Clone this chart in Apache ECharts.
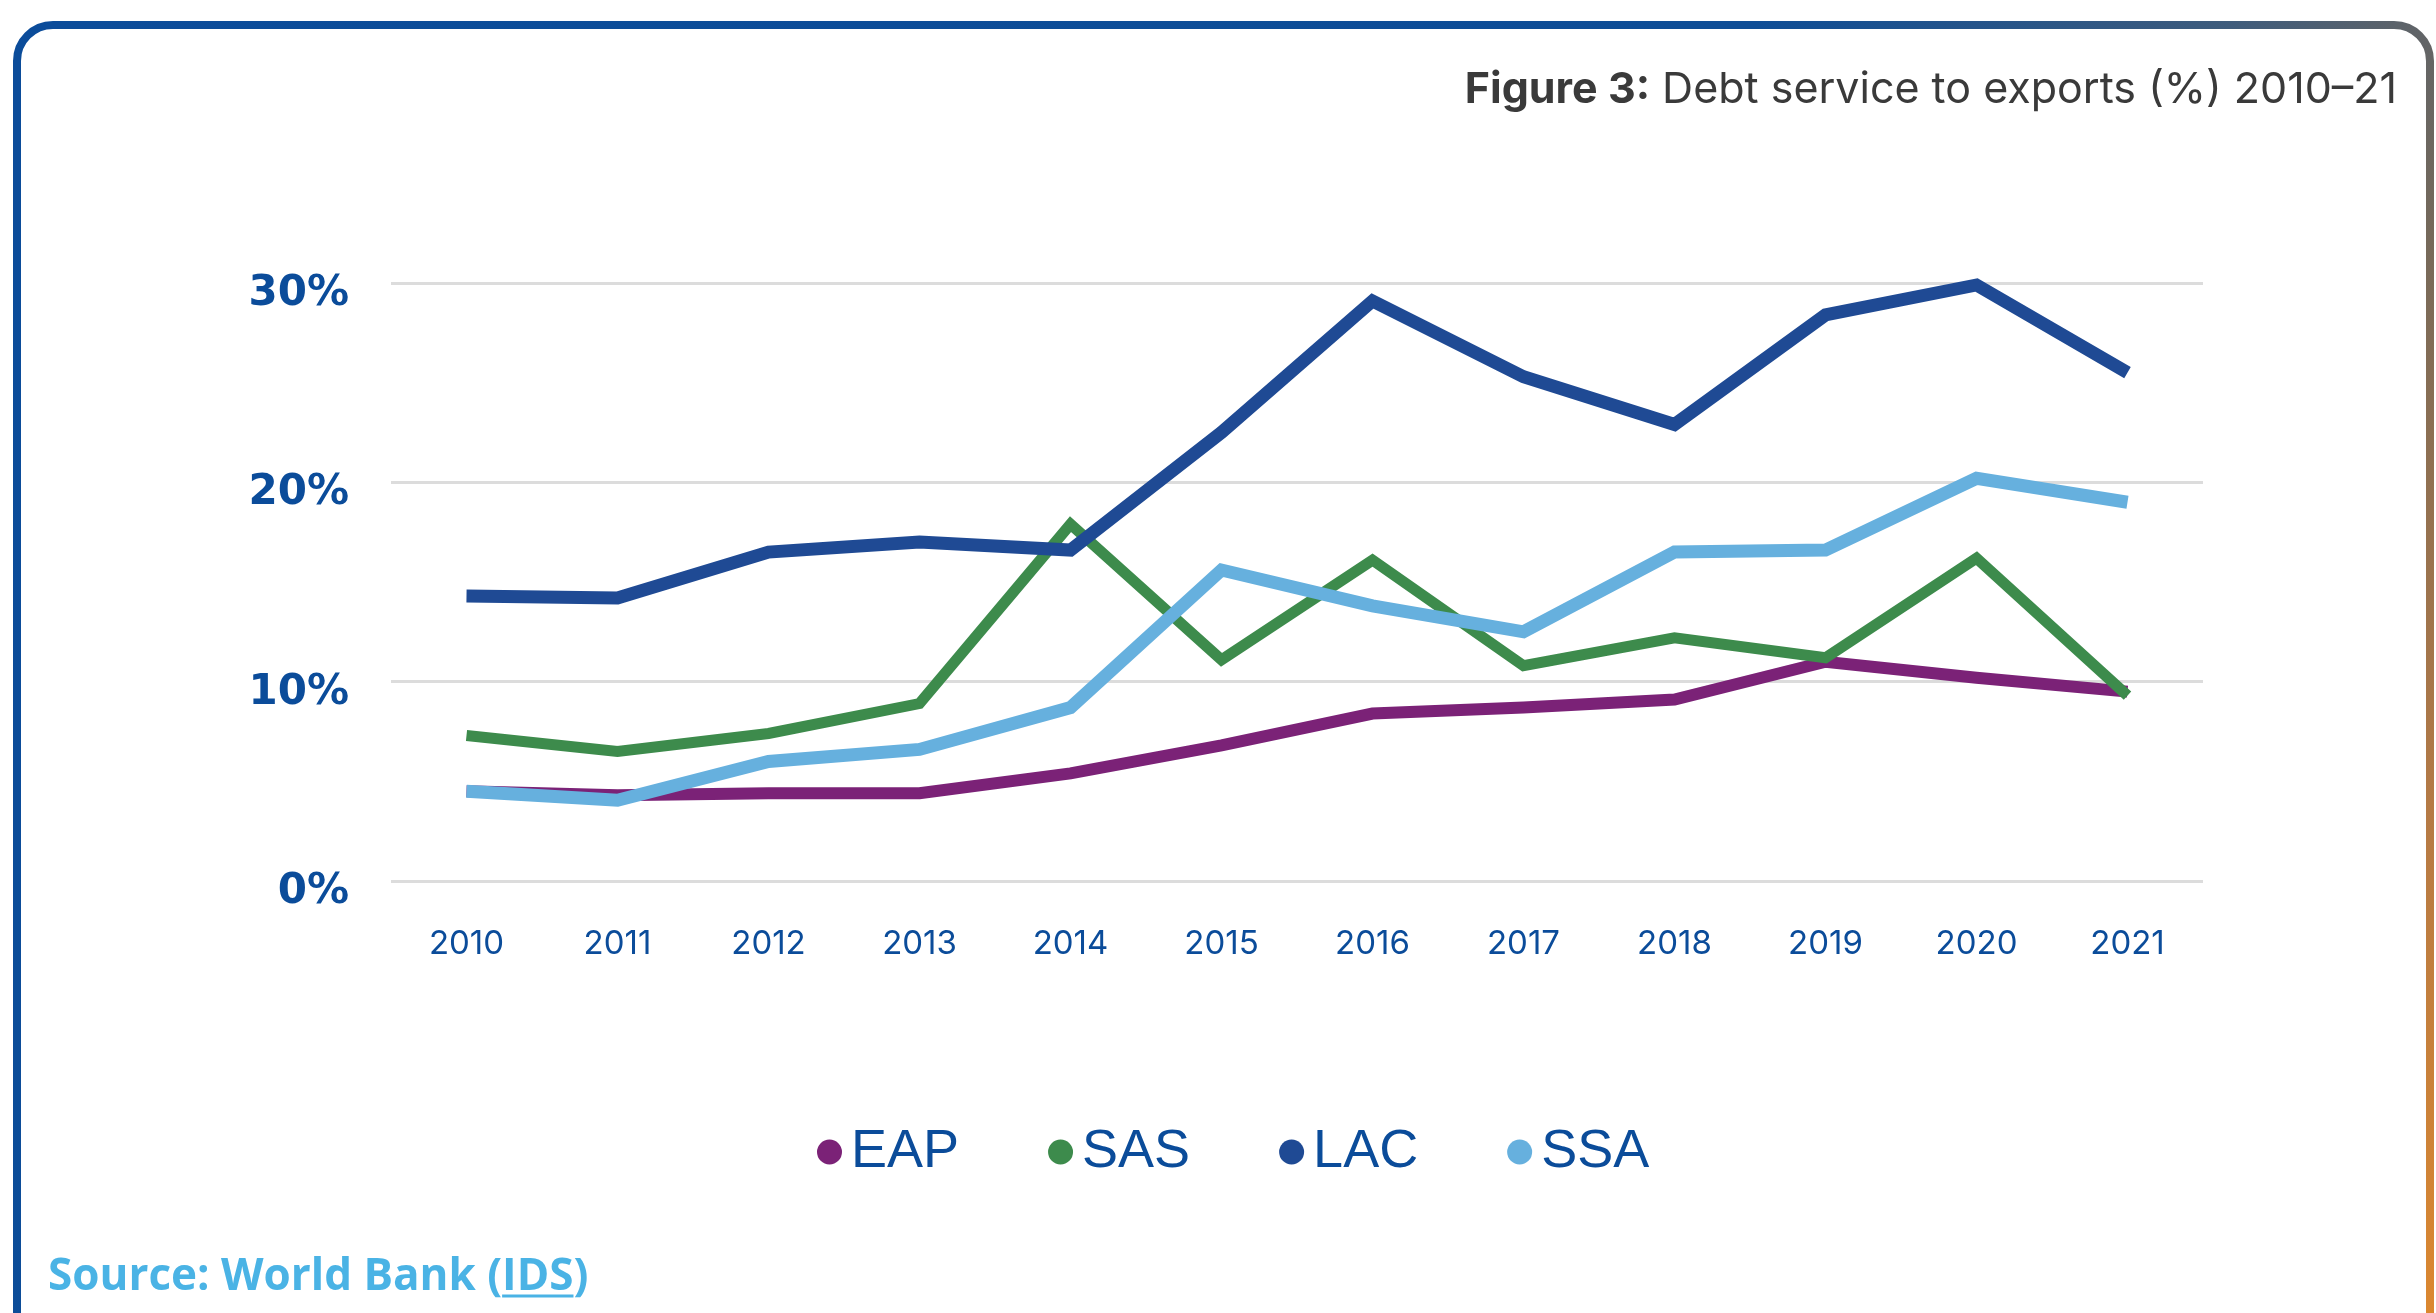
<!DOCTYPE html>
<html>
<head>
<meta charset="utf-8">
<script src="https://cdn.jsdelivr.net/npm/echarts@6/dist/echarts.min.js"></script>
<style>
  html, body { margin: 0; padding: 0; background: #ffffff; }
  #chart { width: 2436px; height: 1313px; }
</style>
</head>
<body>
<div id="chart"></div>
<script>
// ---- Data ----
const years = ['2010','2011','2012','2013','2014','2015','2016','2017','2018','2019','2020','2021'];
const seriesNames = ['EAP', 'SAS', 'LAC', 'SSA'];
const EAP = [4.5, 4.3, 4.4, 4.4, 5.4, 6.8, 8.4, 8.7, 9.1, 11.0, 10.2, 9.5];
const SAS = [7.3, 6.5, 7.4, 8.9, 17.9, 11.1, 16.1, 10.8, 12.2, 11.2, 16.2, 9.3];
const LAC = [14.3, 14.2, 16.5, 17.0, 16.6, 22.5, 29.1, 25.3, 22.9, 28.4, 29.9, 25.5];
const SSA = [4.5, 4.05, 6.0, 6.6, 8.7, 15.6, 13.8, 12.5, 16.5, 16.6, 20.2, 19.0];
const yTicks = [0, 10, 20, 30];
const titleBold = 'Figure 3:';
const titleRest = 'Debt service to exports (%) 2010–21';
const sourcePrefix = 'Source: World Bank (';
const sourceLink = 'IDS';
const sourceSuffix = ')';

// ---- Styles ----
const colors = { EAP: '#7B2277', SAS: '#3D8B4C', LAC: '#1F4A94', SSA: '#66B0DE' };
const widths = { EAP: 12, SAS: 11, LAC: 13, SSA: 13 };
const axisBlue = '#0B4C9A';
const seriesData = { EAP, SAS, LAC, SSA };

const chart = echarts.init(document.getElementById('chart'), null, { renderer: 'canvas' });

// measure source text to place underline under link
const srcFs = 44;
const srcFont = 'bold ' + srcFs + 'px "Open Sans", sans-serif';
const cv = document.createElement('canvas').getContext('2d');
cv.font = srcFont;
const wPrefix = cv.measureText(sourcePrefix).width;
const wLink = cv.measureText(sourceLink).width;
const srcX = 48, srcY = 1277;

const ellipse = 'path://M50,0 A50,50 0 1,1 49.99,0 Z';

chart.setOption({
  animation: false,
  backgroundColor: '#ffffff',
  title: {
    right: 34,
    top: 64,
    text: '{b|' + titleBold + '}{r| ' + titleRest + '}',
    textStyle: {
      rich: {
        b: { fontFamily: 'Inter, "Open Sans", sans-serif', fontWeight: 'bold', fontSize: 43, color: '#3a3a3a' },
        r: { fontFamily: 'Inter, "Open Sans", sans-serif', fontWeight: 'normal', fontSize: 43, color: '#3a3a3a' }
      }
    }
  },
  legend: {
    data: seriesNames.map(n => ({ name: n, icon: ellipse })),
    left: 812,
    top: 1120,
    itemWidth: 25,
    itemHeight: 28,
    itemGap: 89,
    textStyle: {
      fontFamily: '"Liberation Sans", sans-serif',
      fontSize: 54,
      color: axisBlue,
      padding: [0, 0, 0, 4]
    }
  },
  grid: { left: 391, right: 233, top: 283, bottom: 432, containLabel: false },
  xAxis: {
    type: 'category',
    data: years,
    boundaryGap: true,
    axisLine: { show: false },
    axisTick: { show: false },
    axisLabel: {
      color: axisBlue,
      fontFamily: 'Inter, "Open Sans", sans-serif',
      fontSize: 33,
      margin: 47
    },
    splitLine: { show: false }
  },
  yAxis: {
    type: 'value',
    min: yTicks[0],
    max: yTicks[yTicks.length - 1],
    interval: 10,
    axisLine: { show: false },
    axisTick: { show: false },
    axisLabel: {
      formatter: '{a|{value}%}',
      margin: 42,
      rich: {
        a: {
          color: axisBlue,
          fontFamily: '"DejaVu Sans", sans-serif',
          fontWeight: 'bold',
          fontSize: 42,
          padding: [22, 0, 0, 0]
        }
      }
    },
    splitLine: { lineStyle: { color: '#dcdcdc', width: 3 } }
  },
  series: seriesNames.map(n => ({
    name: n,
    type: 'line',
    data: seriesData[n],
    symbol: 'none',
    clip: false,
    lineStyle: { color: colors[n], width: widths[n], join: 'miter' },
    itemStyle: { color: colors[n] }
  })),
  graphic: [
    {
      type: 'rect',
      shape: { x: 17, y: 25, width: 2413, height: 1340, r: 36 },
      style: {
        fill: null,
        lineWidth: 8,
        stroke: new echarts.graphic.LinearGradient(0, 0, 1, 1, [
          { offset: 0, color: '#0B4C9A' },
          { offset: 0.55, color: '#0E4D96' },
          { offset: 0.7, color: '#3F5C7C' },
          { offset: 0.8, color: '#76695A' },
          { offset: 0.9, color: '#B57A45' },
          { offset: 1, color: '#E0892D' }
        ])
      },
      silent: true,
      z: 100
    },
    {
      type: 'text',
      x: srcX,
      y: srcY,
      style: {
        text: sourcePrefix + sourceLink + sourceSuffix,
        font: srcFont,
        fill: '#4AB3E5',
        verticalAlign: 'middle',
        align: 'left'
      },
      silent: true
    },
    {
      type: 'rect',
      shape: { x: srcX + wPrefix, y: srcY + srcFs * 0.4, width: wLink, height: 3 },
      style: { fill: '#4AB3E5' },
      silent: true
    }
  ]
});
</script>
</body>
</html>
